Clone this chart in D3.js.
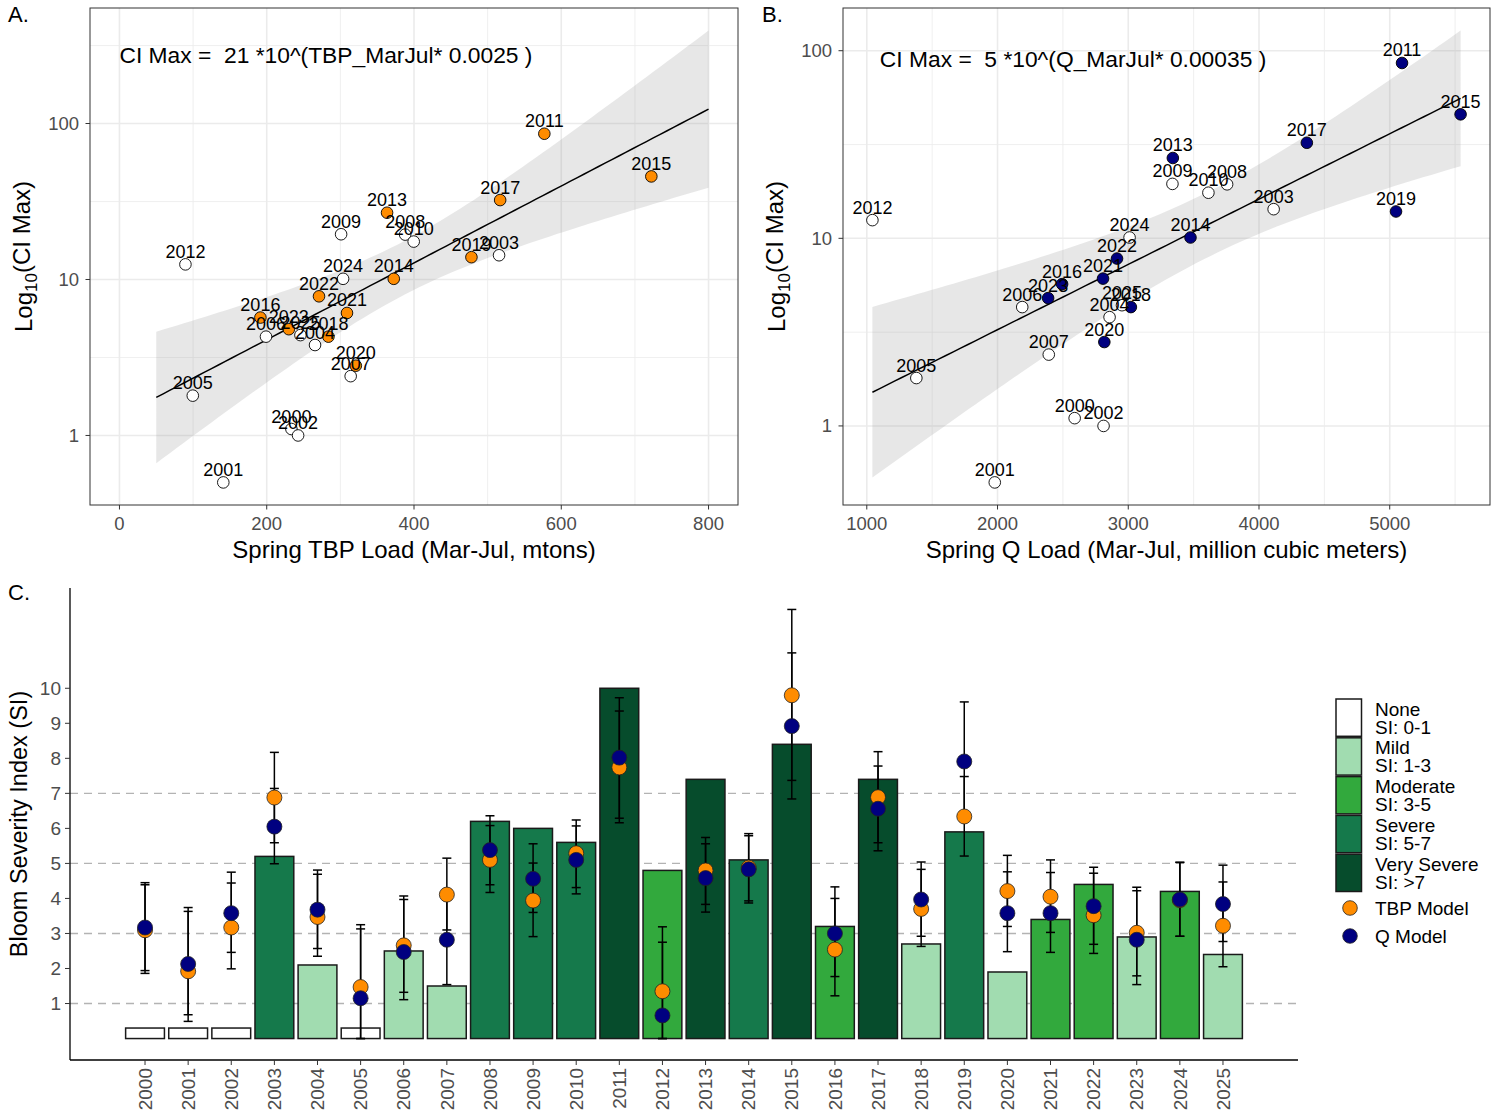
<!DOCTYPE html>
<html>
<head>
<meta charset="utf-8">
<script src="https://cdn.jsdelivr.net/npm/d3@7"></script>
<style>
  body { margin: 0; background: #fff; }
  text { font-family: "Liberation Sans", Arial, sans-serif; }
</style>
</head>
<body>
<div id="chart"></div>
<script>
// ---- data ----
var years = [2000,2001,2002,2003,2004,2005,2006,2007,2008,2009,2010,2011,2012,
             2013,2014,2015,2016,2017,2018,2019,2020,2021,2022,2023,2024,2025]
// observed CI max per year
var ciMax = [1.1,0.5,1.0,14.3,3.8,1.8,4.3,2.4,19.4,19.5,17.5,86,12.5,
             26.8,10.1,45.8,5.7,32.3,4.3,13.9,2.8,6.1,7.8,4.8,10.1,4.4]
// spring TBP load (mtons)
var tbpLoad = [233.5,141,242.6,515.5,265.6,99.6,199,314,388,301,399.6,577,89.6,
               363.4,372.5,722.3,191.4,517,283.8,478,321,309,271,230,303.7,245.8]
// spring Q load (million m3)
var qLoad = [2590,1979,2811,4112,2857,1379,2189,2392,3756,3338,3613,5094,1043,
             3341,3476,5542,2494,4366,3020,5048,2817,2807,2914,2387,3010,2952]
// years used in the regression (filled points)
var fitYears = [2011,2013,2014,2015,2016,2017,2018,2019,2020,2021,2022,2023]
var fitRangeA = [50, 800]
var xLimitsA = [0, 800]

// panel C
var si = [0.3,0.3,0.3,5.2,2.1,0.3,2.5,1.5,6.2,6.0,5.6,10.0,4.8,
          7.4,5.1,8.4,3.2,7.4,2.7,5.9,1.9,3.4,4.4,2.9,4.2,2.4]
var siClass = ["None","None","None","Severe","Mild","None","Mild","Mild","Severe","Severe","Severe","Very Severe","Moderate",
               "Very Severe","Severe","Very Severe","Moderate","Very Severe","Mild","Severe","Mild","Moderate","Moderate","Mild","Moderate","Mild"]
var tbpSI = [3.09,1.92,3.17,6.88,3.47,1.47,2.66,4.11,5.10,3.94,5.29,7.74,1.35,
             4.80,4.88,9.80,2.54,6.89,3.70,6.34,4.21,4.05,3.52,3.02,3.95,3.22]
var tbpLo = [1.86,0.49,1.99,5.59,2.35,0,1.32,3.10,4.17,2.91,4.31,6.16,0,
             3.83,3.93,7.37,1.22,5.59,2.63,5.21,3.20,3.03,2.43,1.79,2.92,2.05]
var tbpHi = [4.39,3.63,4.44,8.17,4.69,3.25,4.07,5.15,6.08,5.01,6.24,9.35,3.19,
             5.74,5.85,12.25,4.00,8.19,4.83,7.48,5.23,5.10,4.72,4.32,5.03,4.47]
var qSI = [3.17,2.13,3.58,6.05,3.68,1.15,2.47,2.82,5.38,4.56,5.10,8.02,0.66,
           4.58,4.83,8.92,3.00,6.56,3.97,7.91,3.58,3.58,3.78,2.82,3.97,3.84]
var qLo = [1.94,0.68,2.46,4.99,2.57,0,1.11,1.54,4.39,3.60,4.13,6.29,0,
           3.61,3.87,6.84,1.77,5.36,2.92,6.26,2.48,2.46,2.69,1.54,2.92,2.77]
var qHi = [4.45,3.74,4.75,7.14,4.81,3.13,3.97,4.25,6.36,5.56,6.07,9.73,2.75,
           5.56,5.79,11.01,4.33,7.78,5.04,9.61,4.76,4.74,4.89,4.22,5.03,4.95]
var classNames = ["None","Mild","Moderate","Severe","Very Severe"]
var classRanges = ["SI: 0-1","SI: 1-3","SI: 3-5","SI: 5-7","SI: >7"]
var classColors = ["#ffffff","#a1dcb0","#32a93d","#15794b","#064c2c"]
var siGuides = [1,3,5,7]
var siTicks = [1,2,3,4,5,6,7,8,9,10]

var svg = d3.select("#chart").append("svg")
    .attr("width", 1498)
    .attr("height", 1120)

// simple least squares on log10(y) with 95% band (df = 10 -> t = 2.228)
function lmFit(xs, ys) {
  var n = xs.length,
      mx = d3.mean(xs),
      my = d3.mean(ys),
      sxx = d3.sum(xs, function(x) { return (x-mx)*(x-mx) }),
      sxy = d3.sum(xs, function(x, i) { return (x-mx)*(ys[i]-my) })
  var b = sxy / sxx, a = my - b*mx
  var ssr = d3.sum(xs, function(x, i) { var r = ys[i] - (a + b*x); return r*r })
  var s = Math.sqrt(ssr / (n-2))
  var t = 2.228
  return function(x) {
    var fit = a + b*x,
        se = s * Math.sqrt(1/n + (x-mx)*(x-mx)/sxx)
    return { x: x, fit: fit, lo: fit - t*se, hi: fit + t*se }
  }
}

function scatterPanel(o) {
  var fx = [], fy = []
  years.forEach(function(y, i) {
    if (fitYears.indexOf(y) >= 0) { fx.push(o.load[i]); fy.push(Math.log10(ciMax[i])) }
  })
  var model = lmFit(fx, fy)
  var band = d3.range(0, 81).map(function(k) {
    return model(o.fitRange[0] + (o.fitRange[1]-o.fitRange[0]) * k / 80)
  })

  var xl = o.xLimits, xpad = (xl[1]-xl[0]) * 0.05
  var x = d3.scaleLinear().domain([xl[0]-xpad, xl[1]+xpad]).range([o.x0, o.x1])
  var logs = ciMax.map(Math.log10)
  var ymin = Math.min(d3.min(logs), d3.min(band, function(d) { return d.lo })),
      ymax = Math.max(d3.max(logs), d3.max(band, function(d) { return d.hi })),
      ypad = (ymax-ymin) * 0.05
  var y = d3.scaleLog().domain([Math.pow(10, ymin-ypad), Math.pow(10, ymax+ypad)]).range([o.y1, o.y0])

  var g = svg.append("g")
  var clipId = "clip" + o.letter
  g.append("clipPath").attr("id", clipId).append("rect")
      .attr("x", o.x0).attr("y", o.y0).attr("width", o.x1-o.x0).attr("height", o.y1-o.y0)
  var inner = g.append("g").attr("clip-path", "url(#" + clipId + ")")

  // grid
  inner.selectAll("line.vminor").data(o.xMinor).enter().append("line")
      .attr("x1", function(d) { return x(d) }).attr("x2", function(d) { return x(d) })
      .attr("y1", o.y0).attr("y2", o.y1)
      .style("stroke", "#ebebeb").style("stroke-width", 0.8)
  inner.selectAll("line.hminor").data([0.316, 3.16, 31.6, 316]).enter().append("line")
      .attr("x1", o.x0).attr("x2", o.x1)
      .attr("y1", function(d) { return y(d) }).attr("y2", function(d) { return y(d) })
      .style("stroke", "#ebebeb").style("stroke-width", 0.8)
  inner.selectAll("line.vmajor").data(o.xTicks).enter().append("line")
      .attr("x1", function(d) { return x(d) }).attr("x2", function(d) { return x(d) })
      .attr("y1", o.y0).attr("y2", o.y1)
      .style("stroke", "#ebebeb").style("stroke-width", 1.6)
  inner.selectAll("line.hmajor").data([1, 10, 100]).enter().append("line")
      .attr("x1", o.x0).attr("x2", o.x1)
      .attr("y1", function(d) { return y(d) }).attr("y2", function(d) { return y(d) })
      .style("stroke", "#ebebeb").style("stroke-width", 1.6)

  // ribbon + fit
  inner.append("path").datum(band)
      .attr("d", d3.area()
        .x(function(d) { return x(d.x) })
        .y0(function(d) { return y(Math.pow(10, d.lo)) })
        .y1(function(d) { return y(Math.pow(10, d.hi)) }))
      .style("fill", "#999999").style("fill-opacity", 0.23)
  inner.append("path").datum(band)
      .attr("d", d3.line()
        .x(function(d) { return x(d.x) })
        .y(function(d) { return y(Math.pow(10, d.fit)) }))
      .style("fill", "none").style("stroke", "#000").style("stroke-width", 1.5)

  // points
  inner.selectAll("circle.pt").data(years).enter().append("circle")
      .attr("cx", function(d, i) { return x(o.load[i]) })
      .attr("cy", function(d, i) { return y(ciMax[i]) })
      .attr("r", 5.8)
      .style("fill", function(d) { return fitYears.indexOf(d) >= 0 ? o.color : "#fff" })
      .style("stroke", "#000").style("stroke-width", 0.9)
  inner.selectAll("text.lab").data(years).enter().append("text")
      .attr("x", function(d, i) { return x(o.load[i]) })
      .attr("y", function(d, i) { return y(ciMax[i]) - 6.5 })
      .attr("text-anchor", "middle")
      .style("font-size", "18px")
      .text(function(d) { return d })

  // equation
  g.append("text")
      .attr("x", x(o.eqPos[0])).attr("y", y(o.eqPos[1])).attr("dy", "0.35em")
      .style("font-size", "22.8px").style("white-space", "pre")
      .text(o.eqText)

  // border
  g.append("rect")
      .attr("x", o.x0).attr("y", o.y0).attr("width", o.x1-o.x0).attr("height", o.y1-o.y0)
      .style("fill", "none").style("stroke", "#333").style("stroke-width", 1)

  // axes
  g.selectAll("line.xt").data(o.xTicks).enter().append("line")
      .attr("x1", function(d) { return x(d) }).attr("x2", function(d) { return x(d) })
      .attr("y1", o.y1).attr("y2", o.y1 + 4.5)
      .style("stroke", "#333")
  g.selectAll("text.xt").data(o.xTicks).enter().append("text")
      .attr("x", function(d) { return x(d) }).attr("y", o.y1 + 25)
      .attr("text-anchor", "middle")
      .style("font-size", "18.5px").style("fill", "#4d4d4d")
      .text(function(d) { return d })
  g.selectAll("line.yt").data([1, 10, 100]).enter().append("line")
      .attr("x1", o.x0 - 4.5).attr("x2", o.x0)
      .attr("y1", function(d) { return y(d) }).attr("y2", function(d) { return y(d) })
      .style("stroke", "#333")
  g.selectAll("text.yt").data([1, 10, 100]).enter().append("text")
      .attr("x", o.x0 - 11).attr("y", function(d) { return y(d) }).attr("dy", "0.35em")
      .attr("text-anchor", "end")
      .style("font-size", "18.5px").style("fill", "#4d4d4d")
      .text(function(d) { return d })

  g.append("text")
      .attr("x", (o.x0 + o.x1) / 2).attr("y", o.y1 + 53)
      .attr("text-anchor", "middle")
      .style("font-size", "24px")
      .text(o.xTitle)
  var yt = g.append("text")
      .attr("transform", "translate(" + (o.x0 - 58) + "," + ((o.y0 + o.y1) / 2) + ") rotate(-90)")
      .attr("text-anchor", "middle")
      .style("font-size", "24px")
  yt.append("tspan").text("Log")
  yt.append("tspan").attr("dy", "0.3em").style("font-size", "17px").text("10")
  yt.append("tspan").attr("dy", "-0.3em").text("(CI Max)")

  svg.append("text")
      .attr("x", o.letterX).attr("y", 22)
      .style("font-size", "22px")
      .text(o.letter + ".")
}

scatterPanel({
  letter: "A", letterX: 8,
  x0: 90, x1: 738, y0: 8, y1: 505,
  load: tbpLoad, color: "#ff8c00",
  xLimits: xLimitsA, fitRange: fitRangeA,
  xTicks: [0, 200, 400, 600, 800], xMinor: [100, 300, 500, 700],
  eqText: "CI Max =  21 *10^(TBP_MarJul* 0.0025 )", eqPos: [0, 275],
  xTitle: "Spring TBP Load (Mar-Jul, mtons)"
})

scatterPanel({
  letter: "B", letterX: 762,
  x0: 843, x1: 1490, y0: 8, y1: 505,
  load: qLoad, color: "#000080",
  xLimits: d3.extent(qLoad), fitRange: d3.extent(qLoad),
  xTicks: [1000, 2000, 3000, 4000, 5000], xMinor: [500, 1500, 2500, 3500, 4500, 5500],
  eqText: "CI Max =  5 *10^(Q_MarJul* 0.00035 )", eqPos: [1100, 90],
  xTitle: "Spring Q Load (Mar-Jul, million cubic meters)"
})

// ---- panel C ----
var cx0 = 70, cx1 = 1298, cy0 = 588, cy1 = 1060
var maxC = d3.max(tbpHi.concat(qHi))
var xC = d3.scaleBand().domain(years).range([cx0, cx1]).paddingInner(0.1).paddingOuter(1.29)
var yC = d3.scaleLinear().domain([-0.05*maxC, maxC*1.05]).range([cy1, cy0])
var colorC = d3.scaleOrdinal().domain(classNames).range(classColors)
var gc = svg.append("g")

gc.selectAll("line.guide").data(siGuides).enter().append("line")
    .attr("x1", cx0).attr("x2", cx1)
    .attr("y1", function(d) { return yC(d) }).attr("y2", function(d) { return yC(d) })
    .style("stroke", "#b3b3b3").style("stroke-width", 1.4).style("stroke-dasharray", "8,6")

gc.selectAll("rect.bar").data(years).enter().append("rect")
    .attr("x", function(d) { return xC(d) })
    .attr("y", function(d, i) { return yC(si[i]) })
    .attr("width", xC.bandwidth())
    .attr("height", function(d, i) { return yC(0) - yC(si[i]) })
    .style("fill", function(d, i) { return colorC(siClass[i]) })
    .style("stroke", "#1a1a1a").style("stroke-width", 1.5)

function errorBars(lo, hi) {
  var cap = 4.5
  years.forEach(function(d, i) {
    var cx = xC(d) + xC.bandwidth() / 2
    gc.append("line").attr("x1", cx).attr("x2", cx)
        .attr("y1", yC(lo[i])).attr("y2", yC(hi[i]))
        .style("stroke", "#000").style("stroke-width", 1.5)
    ;[lo[i], hi[i]].forEach(function(v) {
      gc.append("line").attr("x1", cx - cap).attr("x2", cx + cap)
          .attr("y1", yC(v)).attr("y2", yC(v))
          .style("stroke", "#000").style("stroke-width", 1.5)
    })
  })
}
errorBars(tbpLo, tbpHi)
errorBars(qLo, qHi)

function modelPoints(vals, color) {
  gc.selectAll(null).data(years).enter().append("circle")
      .attr("cx", function(d) { return xC(d) + xC.bandwidth() / 2 })
      .attr("cy", function(d, i) { return yC(vals[i]) })
      .attr("r", 7.5)
      .style("fill", color).style("stroke", "#222").style("stroke-width", 0.8)
}
modelPoints(tbpSI, "#ff8c00")
modelPoints(qSI, "#000080")

// axes C
gc.append("line").attr("x1", cx0).attr("x2", cx0).attr("y1", cy0).attr("y2", cy1)
    .style("stroke", "#000").style("stroke-width", 1.3)
gc.append("line").attr("x1", cx0).attr("x2", cx1).attr("y1", cy1).attr("y2", cy1)
    .style("stroke", "#000").style("stroke-width", 1.3)
gc.selectAll("line.yt").data(siTicks).enter().append("line")
    .attr("x1", cx0 - 5).attr("x2", cx0)
    .attr("y1", function(d) { return yC(d) }).attr("y2", function(d) { return yC(d) })
    .style("stroke", "#333")
gc.selectAll("text.yt").data(siTicks).enter().append("text")
    .attr("x", cx0 - 9).attr("y", function(d) { return yC(d) }).attr("dy", "0.35em")
    .attr("text-anchor", "end")
    .style("font-size", "19px").style("fill", "#4d4d4d")
    .text(function(d) { return d })
gc.selectAll("line.xt").data(years).enter().append("line")
    .attr("x1", function(d) { return xC(d) + xC.bandwidth() / 2 })
    .attr("x2", function(d) { return xC(d) + xC.bandwidth() / 2 })
    .attr("y1", cy1).attr("y2", cy1 + 5)
    .style("stroke", "#333")
gc.selectAll("text.xt").data(years).enter().append("text")
    .attr("transform", function(d) {
      return "translate(" + (xC(d) + xC.bandwidth() / 2) + "," + (cy1 + 8) + ") rotate(-90)"
    })
    .attr("dy", "0.35em")
    .attr("text-anchor", "end")
    .style("font-size", "19px").style("fill", "#4d4d4d")
    .text(function(d) { return d })
gc.append("text")
    .attr("transform", "translate(27," + ((cy0 + cy1) / 2) + ") rotate(-90)")
    .attr("text-anchor", "middle")
    .style("font-size", "23.5px")
    .text("Bloom Severity Index (SI)")
svg.append("text").attr("x", 8).attr("y", 600).style("font-size", "22px").text("C.")

// legend C
var lg = svg.append("g").attr("transform", "translate(1336,699)")
var keyH = 38.8
classNames.forEach(function(c, i) {
  lg.append("rect")
      .attr("x", 0).attr("y", i * keyH)
      .attr("width", 25.5).attr("height", keyH - 1.5)
      .style("fill", colorC(c)).style("stroke", "#1a1a1a").style("stroke-width", 1.5)
  lg.append("text").attr("x", 39).attr("y", i * keyH + 16.5)
      .style("font-size", "19px").text(c)
  lg.append("text").attr("x", 39).attr("y", i * keyH + 34.5)
      .style("font-size", "19px").text(classRanges[i])
})
;[["TBP Model", "#ff8c00"], ["Q Model", "#000080"]].forEach(function(m, i) {
  var yy = 209 + i * 28
  lg.append("circle").attr("cx", 14).attr("cy", yy).attr("r", 7.3)
      .style("fill", m[1]).style("stroke", "#222").style("stroke-width", 0.8)
  lg.append("text").attr("x", 39).attr("y", yy).attr("dy", "0.35em")
      .style("font-size", "19px").text(m[0])
})
</script>
</body>
</html>
